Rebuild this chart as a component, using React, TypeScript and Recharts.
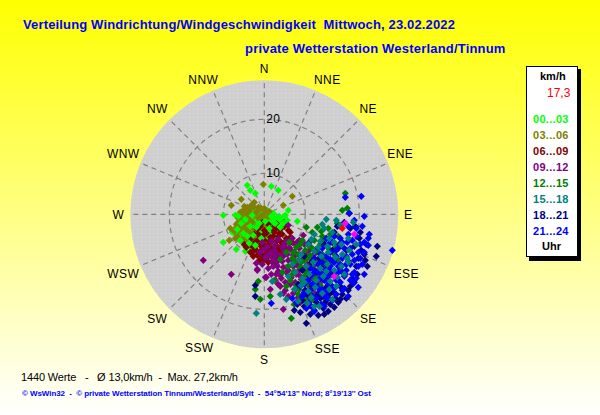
import React from "react";
import { ScatterChart, Scatter, XAxis, YAxis, ReferenceDot } from "recharts";

// One plot unit = one radial step of the diagram; values are [east, north].
const lime: number[][] = [[-17,29],[-14,24],[-9,21],[7,28],[14,24],[-41,-1],[-29,-1],[-41,-28],[-28,-35],[-19,-37],[-20,-31],[-32,-18],[-28,-21],[24,4],[33,-7],[17,-14],
[-22,-4],[-18,-8],[-14,-3],[-10,-7],[-6,-2],[-2,-6],[2,-3],[6,-7],[10,-4],[14,-8],[18,-5],[-24,-12],[-20,-15],[-16,-11],[-12,-14],[-8,-10],[-4,-13],[0,-11],[4,-14],[8,-11],[12,-15],[16,-10],[20,-12],[-26,-19],[-22,-23],[-18,-19],[-14,-22],[-10,-18],[-6,-21],[-2,-18],[2,-22],[6,-19],[-20,-27],[-16,-25],[-12,-29],[-8,-26],[-4,-30],[-15,3],[-9,5],[-3,2],[3,4],[9,1],[-25,-8],[21,-1],[-13,-34],[-16,-17],[-6,-15]];
const limeLate: number[][] = [[-19,-5],[-12,-1],[-5,-9],[1,-7],[7,-2],[13,-3],[-27,-15],[-21,-19],[-15,-29],[-9,-31],[-24,-26],[-11,-21],[11,-9],[19,-9],[-17,-22],[-23,-9],[-3,-24],[15,-2],[23,-6],[-26,-2],[-8,-13],[5,-14],[-14,-12],[16,-13]];
const olive: number[][] = [[-1,30],[-23,15],[-33,9],[-10,12],[28,18],[19,9],[-35,-26],[-34,-14],[-29,-24],[-23,-1],[-19,2],[-15,5],[-11,7],[-7,3],[-3,6],[1,3],[4,1],[-26,-4],[-22,-7],[-18,-2],[-14,-5],[-10,-1],[-6,-4],[-2,-1],[2,-4],[-28,-10],[-24,-13],[-20,-10],[-16,-14],[-12,-8],[-8,-12],[-4,-9],[0,-13],[-30,-17],[-26,-16],[-22,-19],[-18,-16],[-14,-19],[-10,-15],[-27,-22],[-24,-26],[-20,-23],[-21,4],[-17,7],[-9,-17],[-5,5],[-13,1],[6,-2],[-16,-29],[-8,-23],[-25,-1],[-11,-25],
[-20,8],[-13,9],[-6,7],[0,6],[5,3],[-24,2],[-17,0],[-9,1],[-4,-2],[-26,-8],[-21,-13],[-15,-9],[-28,-13],[-23,-17],[-19,-25],[-13,-28],[-6,-28]];
const maroon: number[][] = [[-11,-30],[-11,-37],[-11,-42],[-5,-46],[20,-8],[26,-18],[-4,-12],[0,-16],[4,-10],[8,-14],[12,-9],[16,-15],[20,-12],[24,-16],[-6,-20],[-2,-24],[2,-19],[6,-23],[10,-18],[14,-22],[18,-20],[22,-24],[26,-23],[-8,-27],[-4,-31],[0,-26],[4,-30],[8,-27],[12,-31],[16,-27],[20,-30],[-9,-35],[-5,-38],[-1,-34],[3,-37],[7,-34],[11,-38],[15,-36],[-2,-42],[2,-45],[6,-41],[10,-44],[-18,-33],[-14,-38],[-20,-30],[-7,-15],[-13,-24],[-10,-20],[4,-48],[-2,-8],[-6,-12],
[-1,-21],[5,-27],[9,-22],[13,-26],[17,-32],[21,-27],[25,-28],[-3,-36],[1,-40],[5,-35],[9,-40],[13,-34],[18,-38],[22,-34],[-7,-41],[-2,-47],[8,-47],[14,-42],[0,-30],[-5,-25],[11,-15],[15,-19],[-10,-33],[-13,-31],[28,-28]];
const purple: number[][] = [[-61,-46],[-33,-60],[-8,-49],[-7,-56],[1,-63],[6,-75],[3,-43],[-7,-55],[19,-95],[2,-63],[39,-21],[24,-11],[36,-88],[0,-35],[5,-40],[10,-36],[15,-41],[20,-37],[25,-33],[30,-38],[35,-34],[40,-30],[45,-36],[50,-40],[8,-48],[13,-52],[18,-47],[23,-53],[28,-46],[33,-51],[38,-45],[43,-50],[48,-46],[55,-44],[12,-60],[17,-64],[22,-58],[27,-63],[32,-60],[37,-65],[42,-58],[47,-62],[52,-57],[58,-52],[63,-56],[16,-72],[21,-76],[26,-70],[31,-75],[36,-71],[41,-76],[46,-70],[51,-73],[56,-68],[62,-64],[70,-60],[30,-42],[24,-82],[34,-83],[44,-82],[54,-80],[20,-30],[33,-28],[76,-56],[12,-40],
[-2,-28],[3,-33],[7,-27],[11,-31],[14,-25],[18,-33],[22,-27],[27,-36],[31,-30],[35,-26],[41,-38],[-4,-38],[1,-43],[6,-38],[9,-44],[14,-46],[19,-42],[24,-46],[29,-41],[34,-46],[39,-40],[44,-42],[-2,-50],[4,-54],[9,-52],[14,-57],[19,-53],[24,-56],[29,-52],[34,-57],[39,-54],[44,-55],[49,-52],[7,-60],[11,-66],[16,-61],[21,-68],[26,-64],[31,-68],[36,-62],[41,-66],[46,-64],[52,-66],[57,-60],[14,-70],[19,-79],[29,-79],[39,-80],[49,-78],[28,-24],[38,-27],[12,-50],[23,-40]];
const green: number[][] = [[81,21],[83,6],[78,4],[73,-9],[-6,-67],[-4,-85],[6,-82],[27,-104],[53,-13],[42,-13],[64,-14],[-9,-75],[10,-66],[25,-28],[32,-33],[38,-26],[44,-31],[50,-26],[56,-30],[62,-24],[68,-28],[74,-22],[22,-38],[28,-44],[34,-40],[40,-46],[46,-41],[52,-46],[58,-40],[64,-46],[70,-40],[24,-52],[30,-57],[36,-53],[42,-58],[48,-53],[54,-58],[60,-53],[66,-58],[26,-66],[32,-71],[38,-66],[44,-71],[50,-66],[56,-71],[62,-66],[34,-80],[40,-85],[46,-78],[52,-84],[16,-45],[18,-58],[22,-72],[30,-90],[58,-22],[48,-18],[60,-84],
[36,-30],[41,-36],[47,-33],[53,-37],[59,-31],[65,-35],[71,-33],[31,-47],[37,-48],[43,-44],[49,-47],[55,-49],[61,-44],[67,-50],[73,-46],[57,-17],[66,-20],[60,-26],[28,-60],[40,-62],[52,-62],[35,-75],[47,-86],[29,-38]];
const teal: number[][] = [[-8,-99],[62,-5],[89,-8],[55,-92],[16,-80],[8,-67],[76,-11],[58,-10],[68,-18],[50,-20],[56,-27],[63,-32],[70,-28],[77,-30],[84,-24],[44,-30],[50,-37],[57,-42],[64,-38],[71,-43],[78,-40],[85,-36],[28,-50],[35,-46],[42,-52],[49,-48],[56,-54],[63,-50],[70,-56],[77,-52],[84,-48],[24,-62],[31,-58],[38,-64],[45,-60],[52,-66],[59,-62],[66,-67],[73,-63],[80,-60],[30,-75],[37,-71],[44,-77],[51,-73],[58,-79],[65,-75],[72,-72],[22,-85],[34,-87],[43,-89],[68,-85],[92,-30],[50,-92],
[60,-14],[72,-6],[65,-24],[54,-33],[47,-25],[83,-44],[40,-68],[47,-83],[62,-57],[37,-40]];
const navy: number[][] = [[113,-32],[112,-42],[103,-52],[42,-109],[-9,-71],[-9,-82],[85,1],[76,-85],[30,-96],[53,-81],[61,-88],[86,-14],[70,-18],[95,-24],[45,-28],[52,-35],[60,-30],[68,-36],[75,-30],[82,-36],[90,-32],[97,-36],[40,-42],[47,-48],[55,-44],[62,-50],[69,-46],[77,-52],[84,-47],[92,-52],[38,-56],[45,-62],[52,-58],[60,-64],[67,-60],[74,-66],[81,-60],[88,-64],[34,-70],[41,-76],[48,-72],[55,-78],[62,-73],[69,-78],[76,-72],[84,-76],[38,-86],[45,-91],[52,-88],[59,-94],[66,-90],[74,-88],[82,-84],[36,-98],[46,-100],[54,-101],[96,-18],[100,-40],[90,-68],
[80,-8],[91,-12],[73,-12],[57,-53],[65,-80],[43,-80],[50,-96],[56,-84],[70,-93],[78,-80],[86,-72],[93,-60],[101,-46],[40,-92],[33,-90],[64,-97],[71,-84],[60,-100],[94,-44],[102,-30]];
const blue: number[][] = [[97,18],[81,17],[85,1],[100,-2],[128,-36],[104,-31],[100,-38],[7,-89],[94,-73],[89,-69],[76,-12],[92,-14],[88,-26],[96,-30],[104,-24],[62,-24],[70,-22],[78,-28],[86,-34],[94,-38],[58,-34],[66,-38],[74,-34],[82,-42],[90,-46],[98,-50],[50,-44],[58,-48],[66,-45],[74,-52],[82,-50],[90,-58],[46,-54],[54,-58],[62,-55],[70,-62],[78,-58],[86,-66],[44,-66],[52,-70],[60,-66],[68,-72],[76,-68],[84,-82],[40,-78],[48,-82],[56,-78],[64,-84],[72,-80],[80,-74],[32,-88],[42,-94],[50,-97],[60,-92],[58,-75],[66,-56],[72,-42],[48,-60],[56,-40],[64,-62],[100,-60],[36,-72],[28,-84],
[68,-28],[76,-24],[84,-20],[92,-22],[100,-28],[64,-30],[72,-36],[80,-34],[88,-40],[96,-44],[54,-50],[62,-42],[70,-48],[78,-44],[86,-50],[94,-52],[50,-56],[58,-60],[66,-52],[74,-58],[82,-56],[92,-64],[48,-70],[56,-64],[64,-70],[72,-66],[80,-62],[88,-60],[46,-76],[54,-74],[62,-78],[70,-74],[78,-76],[44,-88],[52,-84],[60,-82],[68,-86],[38,-82],[47,-92],[57,-90],[105,-20],[98,-12],[90,-6],[84,-12],[60,-58],[40,-70],[76,-50],[83,-28]];
const peak: number[][] = [[81,-9],[90,-20],[70,-62]];
const current: number[][] = [[78,-14]];

const compass = ["N","NNE","NE","ENE","E","ESE","SE","SSE","S","SSW","SW","WSW","W","WNW","NW","NNW"];
const compassEast = [0,63,104,136,144,142,104,63,0,-65,-107,-141,-146,-141,-107,-61];
const compassNorth = [145,134,105,60,-1,-60,-105,-135,-146,-134,-105,-60,-1,60,105,134];
const rings = [41, 95];
const ringLabels = [{ e: 9, n: 41, label: "10" }, { e: 9, n: 95, label: "20" }];
const legendRows = [["00...03","#00ff00"],["03...06","#808000"],["06...09","#800000"],["09...12","#800080"],["12...15","#008000"],["15...18","#008080"],["18...21","#000080"],["21...24","#0000ff"]];

const CX = 264.3, CY = 214.3, W = 600, H = 415, R = 134;
const table = (a: number[][]) => a.map(([e, n]) => ({ e, n }));
const Diamond = (color: string) => (p: any) => (
  <path d={`M${p.cx} ${p.cy - 3.6}L${p.cx + 3.6} ${p.cy}L${p.cx} ${p.cy + 3.6}L${p.cx - 3.6} ${p.cy}Z`} fill={color} />
);
const Caption = (p: any) => (
  <text x={p.cx} y={p.cy} textAnchor="middle" dominantBaseline="central" fontFamily="Liberation Sans" fontSize={12} letterSpacing={0.4} fill="#000">{p.payload.label}</text>
);
const NoMark = () => null;
const compassPoints = compass.map((label, i) => ({ e: compassEast[i], n: compassNorth[i], label }));
const font = "Liberation Sans";
const gridLine = { stroke: "#808080", strokeWidth: 1.2, strokeDasharray: "5 4" };
const order: [number[][], string][] = [[lime,"#00ff00"],[olive,"#808000"],[maroon,"#800000"],[limeLate,"#00ff00"],[purple,"#800080"],[green,"#008000"],[navy,"#000080"],[blue,"#0000ff"],[teal,"#008080"],[peak,"#ff00ff"],[current,"#ff0000"]];
const abs = (x: number, y: number, s: any): any => ({ position: "absolute", left: x, top: y, whiteSpace: "pre", fontFamily: font, lineHeight: 1, ...s });

export default function App() {
  return (
    <div style={{ position: "absolute", left: 0, top: 0, width: W, height: H, overflow: "hidden", background: "linear-gradient(#ffff00, #ffffff)" }}>
      <ScatterChart width={W} height={H} margin={{ top: 0, right: 0, bottom: 0, left: 0 }} style={{ position: "absolute", left: 0, top: 0 }}>
        <defs>
          <pattern id="dots" width={4} height={4} patternUnits="userSpaceOnUse">
            <rect width={4} height={4} fill="#cfcfcf" />
            <rect x={1} y={1} width={1} height={1} fill="#dedede" />
          </pattern>
        </defs>
        <XAxis type="number" dataKey="e" hide domain={[-CX, W - CX]} allowDataOverflow />
        <YAxis type="number" dataKey="n" hide domain={[CY - H, CY]} allowDataOverflow />
        <ReferenceDot x={0} y={0} r={R} fill="url(#dots)" stroke="none" ifOverflow="visible" />
        {rings.map((r) => (
          <ReferenceDot key={r} x={0} y={0} r={r} fill="none" {...gridLine} ifOverflow="visible" />
        ))}
        {compass.map((c, i) => {
          const a = (i * Math.PI) / 8;
          return <Scatter key={c} data={[{ e: 0, n: 0 }, { e: R * Math.sin(a), n: R * Math.cos(a) }]} line={gridLine} shape={NoMark} isAnimationActive={false} />;
        })}
        {order.map(([pts, color], i) => (
          <Scatter key={i} data={table(pts)} shape={Diamond(color)} isAnimationActive={false} />
        ))}
        <Scatter data={compassPoints} shape={Caption} isAnimationActive={false} />
        <Scatter data={ringLabels} shape={Caption} isAnimationActive={false} />
      </ScatterChart>

      <div style={abs(23, 18, { fontSize: 13, fontWeight: 700, color: "#0000ff", letterSpacing: 0.15 })}>Verteilung Windrichtung/Windgeschwindigkeit  Mittwoch, 23.02.2022</div>
      <div style={abs(245, 42, { fontSize: 13, fontWeight: 700, color: "#0000ff", letterSpacing: 0.2 })}>private Wetterstation Westerland/Tinnum</div>

      <div style={{ position: "absolute", left: 529, top: 69, width: 52, height: 192, background: "#000" }} />
      <div style={{ position: "absolute", left: 526, top: 66, width: 50, height: 189, background: "#fff", border: "1px solid #000" }} />
      <div style={abs(540, 71, { fontSize: 11, fontWeight: 700, color: "#000" })}>km/h</div>
      <div style={abs(547, 87, { fontSize: 12, color: "#ff0000" })}>17,3</div>
      {legendRows.map(([t, c], i) => (
        <div key={t} style={abs(533, 114 + i * 16, { fontSize: 11, fontWeight: 700, color: c, letterSpacing: 0.3 })}>{t}</div>
      ))}
      <div style={abs(542, 241, { fontSize: 11, fontWeight: 700, color: "#000" })}>Uhr</div>

      <div style={abs(21, 372, { fontSize: 11, color: "#000", letterSpacing: -0.15 })}>1440 Werte   -   Ø 13,0km/h  -  Max. 27,2km/h</div>
      <div style={abs(22, 390, { fontSize: 8, color: "#0000ff", fontWeight: 700, letterSpacing: -0.07 })}>© WsWin32  -  © private Wetterstation Tinnum/Westerland/Sylt  -  54°54'13'' Nord; 8°19'13'' Ost</div>
    </div>
  );
}
